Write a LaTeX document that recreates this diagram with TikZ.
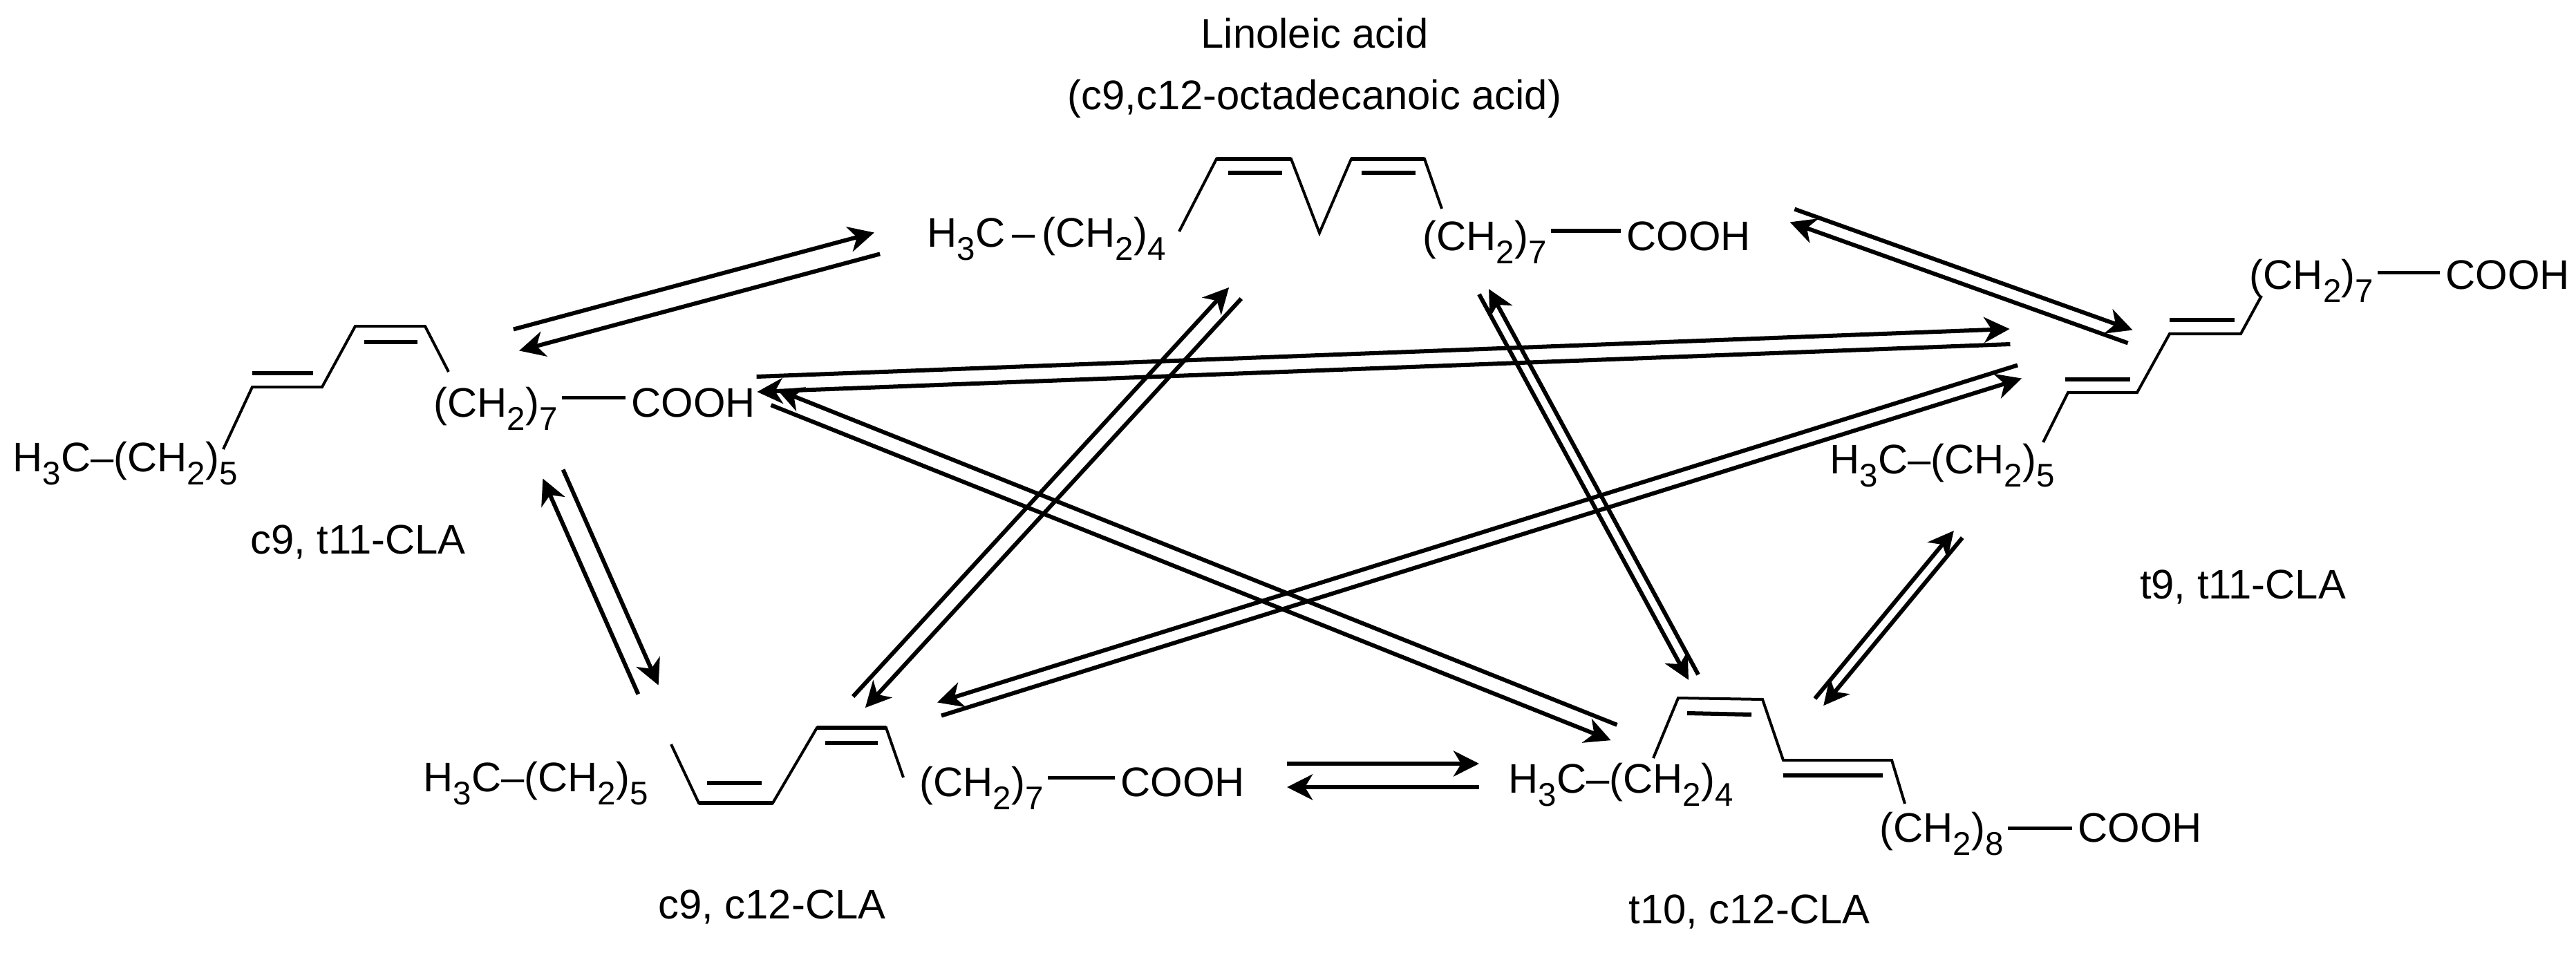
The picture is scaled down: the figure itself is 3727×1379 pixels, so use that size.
\documentclass[tikz,border=0pt]{standalone}
\usepackage{fontspec}
\setmainfont{Liberation Sans}
\usetikzlibrary{arrows.meta,calc}
\newcommand\sbs[1]{\raisebox{-0.32em}{\fontsize{13.5}{13.5}\selectfont #1}}
\newcommand\rxn[3]{%
  \draw[rx] ($(#1)!#3!90:(#2)$) -- ($(#2)!#3!-90:(#1)$);
  \draw[rx] ($(#2)!#3!90:(#1)$) -- ($(#1)!#3!-90:(#2)$);}
\newcommand\cbond[3]{\draw[bond] ($(#1.base east)+(6,#3)$) -- ($(#2.base west)+(-8,#3)$);}
\begin{document}
\begin{tikzpicture}[x=0.01cm,y=-0.01cm,
  t/.style={anchor=base west,inner sep=0pt,font=\fontsize{17}{20}\selectfont},
  lab/.style={inner sep=0pt,font=\fontsize{17}{20}\selectfont},
  chain/.style={line width=0.04cm,line join=miter},
  bar/.style={line width=0.06cm},
  bond/.style={line width=0.05cm},
  rx/.style={line width=0.06cm,-{Stealth[length=0.37cm,width=0.37cm,inset=0.11cm]}}]
\useasboundingbox (0,0) rectangle (3727,1379);
% titles
\node[lab] (tt1) at (1902,48) {Linoleic acid};
\node[lab] (tt2) at (1902,143) {(c9,c12-octadecanoic acid)};
\node[lab] (lA) at (518,784) {c9, t11-CLA};
\node[lab] (lB) at (3245,849) {t9, t11-CLA};
\node[lab] (lC) at (1117,1312) {c9, c12-CLA};
\node[lab] (lD) at (2531,1319) {t10, c12-CLA};
% linoleic
\node[t] (L1) at (1341,357) {H\sbs{3}C\,–\,(CH\sbs{2})\sbs{4}};
\node[t] (L2) at (2058,362) {(CH\sbs{2})\sbs{7}};
\node[t] (L3) at (2353,362) {COOH};
\cbond{L2}{L3}{-28}
\draw[chain] (1706,335)--(1760,230)--(1868,230)--(1909,337)--(1955,230)--(2061,230)--(2086,302);
\draw[bar] (1760,230)--(1868,230) (1955,230)--(2061,230) (1777,250)--(1855,250) (1970,250)--(2048,250);
% c9,t11
\node[t] (A1) at (18,682) {H\sbs{3}C–(CH\sbs{2})\sbs{5}};
\node[t] (A2) at (627,603) {(CH\sbs{2})\sbs{7}};
\node[t] (A3) at (913,603) {COOH};
\cbond{A2}{A3}{-28}
\draw[chain] (323,650)--(365,560)--(466,560)--(514,472)--(615,472)--(649,538);
\draw[bar] (365,540)--(453,540) (527,495)--(604,495);
% t9,t11
\node[t] (B1) at (2647,685) {H\sbs{3}C–(CH\sbs{2})\sbs{5}};
\node[t] (B2) at (3254,418) {(CH\sbs{2})\sbs{7}};
\node[t] (B3) at (3538,418) {COOH};
\cbond{B2}{B3}{-24}
\draw[chain] (3272,428)--(3242,483)--(3139,483)--(3092,568)--(2992,568)--(2956,640);
\draw[bar] (3139,463)--(3233,463) (2988,549)--(3082,549);
% c9,c12
\node[t] (C1) at (612,1145) {H\sbs{3}C–(CH\sbs{2})\sbs{5}};
\node[t] (C2) at (1330,1152) {(CH\sbs{2})\sbs{7}};
\node[t] (C3) at (1621,1152) {COOH};
\cbond{C2}{C3}{-27}
\draw[chain] (971,1077)--(1011,1162)--(1118,1162)--(1182,1053)--(1282,1053)--(1307,1125);
\draw[bar] (1011,1162)--(1118,1162) (1182,1053)--(1282,1053) (1023,1133)--(1102,1133) (1194,1075)--(1270,1075);
% t10,c12
\node[t] (D1) at (2182,1147) {H\sbs{3}C–(CH\sbs{2})\sbs{4}};
\node[t] (D2) at (2719,1218) {(CH\sbs{2})\sbs{8}};
\node[t] (D3) at (3006,1218) {COOH};
\cbond{D2}{D3}{-20}
\draw[chain] (2392,1097)--(2428,1010)--(2550,1012)--(2580,1100)--(2737,1100)--(2756,1163);
\draw[bar] (2441,1032)--(2534,1034) (2580,1122)--(2724,1122);
% reaction pairs
\coordinate (p1) at (747,492);  \coordinate (q1) at (1269,352);
\coordinate (p2) at (2593,312); \coordinate (q2) at (3082,487);
\coordinate (p3) at (1095,556); \coordinate (q3) at (2908,487);
\coordinate (p4) at (800,686);  \coordinate (q4) at (938,998);
\coordinate (p5) at (1243,1016);\coordinate (q5) at (1787,424);
\coordinate (p6) at (1359,1026);\coordinate (q6) at (2922,538);
\coordinate (p7) at (1120,575); \coordinate (q7) at (2335,1060);
\coordinate (p8) at (2147,422); \coordinate (q8) at (2450,980);
\coordinate (p9) at (1862,1122);\coordinate (q9) at (2140,1122);
\coordinate (p10) at (2632,1016);\coordinate (q10) at (2833,773);
\rxn{p1}{q1}{0.16cm}
\rxn{p2}{q2}{0.10cm}
\rxn{p3}{q3}{0.11cm}
\rxn{p4}{q4}{0.16cm}
\rxn{p5}{q5}{0.12cm}
\rxn{p6}{q6}{-0.10cm}
\rxn{p7}{q7}{-0.12cm}
\rxn{p8}{q8}{-0.08cm}
\rxn{p9}{q9}{0.17cm}
\rxn{p10}{q10}{0.08cm}
\end{tikzpicture}
\end{document}
